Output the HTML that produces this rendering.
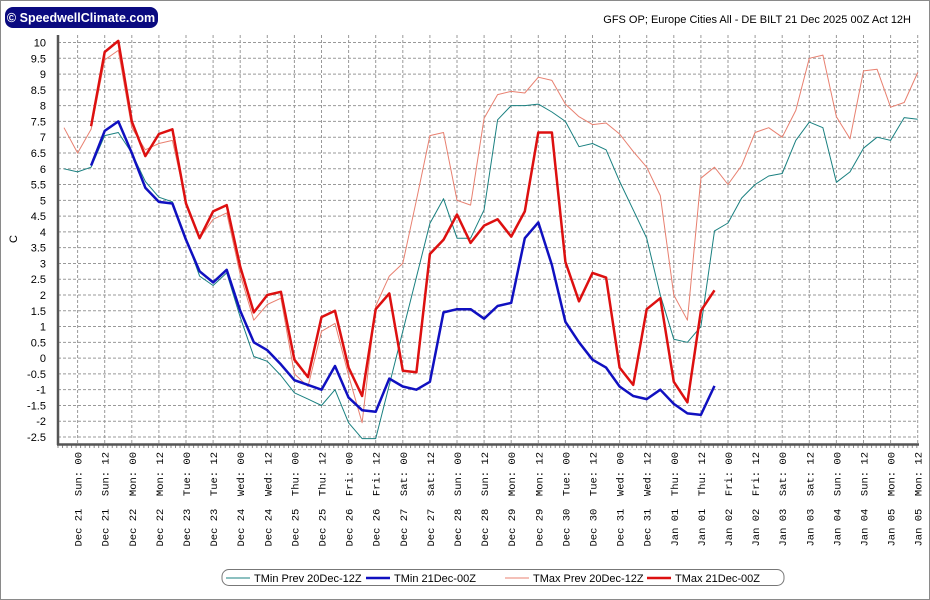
<!DOCTYPE html>
<html><head><meta charset="utf-8"><style>
html,body{margin:0;padding:0;background:#fff;}
svg{display:block;font-family:"Liberation Sans",sans-serif;}
</style></head><body>
<svg id="chart" width="930" height="600" viewBox="0 0 930 600" xmlns="http://www.w3.org/2000/svg">
<rect x="0.5" y="0.5" width="929" height="599" fill="#fff" stroke="#8a8a8a"/>
<g>
<rect x="5" y="7" width="153" height="21" rx="8" fill="#0a0a80"/>
<text x="81" y="22" fill="#fff" font-size="12.5" font-weight="bold" text-anchor="middle">© SpeedwellClimate.com</text>
</g>
<text x="911" y="23" font-size="11" text-anchor="end" fill="#000">GFS OP; Europe Cities All - DE BILT 21 Dec 2025 00Z Act 12H</text>
<text transform="translate(17,239) rotate(-90)" font-size="11" text-anchor="middle">C</text>
<g id="grid"></g>
<g id="yticks"></g>
<g id="xticks"></g>
<g id="series"></g>
<line x1="58" y1="35" x2="58" y2="445" stroke="#555" stroke-width="2.5"/>
<line x1="57" y1="444.5" x2="919" y2="444.5" stroke="#555" stroke-width="2.5"/>
<g>
<rect x="222" y="569.5" width="562" height="16" rx="7" fill="#fff" stroke="#777"/>
<g><line x1="226" y1="578" x2="250" y2="578" stroke="#1a8080" stroke-width="1"/><text x="254" y="582" font-size="11">TMin Prev 20Dec-12Z</text></g>
<g><line x1="366" y1="578" x2="390" y2="578" stroke="#1010c0" stroke-width="2.5"/><text x="394" y="582" font-size="11">TMin 21Dec-00Z</text></g>
<g><line x1="505" y1="578" x2="529" y2="578" stroke="#e88070" stroke-width="1"/><text x="533" y="582" font-size="11">TMax Prev 20Dec-12Z</text></g>
<g><line x1="647" y1="578" x2="671" y2="578" stroke="#dd1010" stroke-width="2.5"/><text x="675" y="582" font-size="11">TMax 21Dec-00Z</text></g>
</g>
</svg>
<script>
const yTicks = [10,9.5,9,8.5,8,7.5,7,6.5,6,5.5,5,4.5,4,3.5,3,2.5,2,1.5,1,0.5,0,-0.5,-1,-1.5,-2,-2.5];
const xDays = ["Dec 21","Dec 21","Dec 22","Dec 22","Dec 23","Dec 23","Dec 24","Dec 24","Dec 25","Dec 25","Dec 26","Dec 26","Dec 27","Dec 27","Dec 28","Dec 28","Dec 29","Dec 29","Dec 30","Dec 30","Dec 31","Dec 31","Jan 01","Jan 01","Jan 02","Jan 02","Jan 03","Jan 03","Jan 04","Jan 04","Jan 05","Jan 05"];
const xWeek = ["Sun","Sun","Mon","Mon","Tue","Tue","Wed","Wed","Thu","Thu","Fri","Fri","Sat","Sat","Sun","Sun","Mon","Mon","Tue","Tue","Wed","Wed","Thu","Thu","Fri","Fri","Sat","Sat","Sun","Sun","Mon","Mon"];
// series: 6-hourly from Dec 20 18Z; null = no data
const tminPrev = [6.0,5.9,6.05,7.05,7.15,6.5,5.6,5.1,4.95,3.8,2.6,2.3,2.7,1.3,0.05,-0.1,-0.55,-1.1,-1.3,-1.5,-1.0,-2.05,-2.55,-2.55,-0.85,0.85,2.56,4.27,5.05,3.8,3.8,4.7,7.55,8.0,8.0,8.05,7.8,7.5,6.7,6.8,6.6,5.6,4.7,3.8,2.0,0.6,0.5,1.0,4.03,4.28,5.07,5.5,5.77,5.85,6.9,7.48,7.3,5.57,5.9,6.65,7.0,6.9,7.62,7.57];
const tmin = [null,null,6.1,7.2,7.5,6.5,5.4,4.95,4.9,3.75,2.75,2.4,2.8,1.5,0.5,0.25,-0.2,-0.7,-0.85,-1.0,-0.25,-1.25,-1.65,-1.7,-0.65,-0.9,-1.0,-0.75,1.45,1.55,1.55,1.25,1.65,1.75,3.8,4.3,2.95,1.15,0.5,-0.05,-0.3,-0.9,-1.2,-1.3,-1.0,-1.45,-1.75,-1.8,-0.88];
const tmaxPrev = [7.3,6.5,7.25,9.45,9.75,7.3,6.6,6.8,6.9,4.95,3.8,4.4,4.6,2.65,1.2,1.7,1.9,-0.5,-0.9,0.85,1.1,-0.55,-2.05,1.65,2.6,3.0,5.0,7.05,7.15,5.0,4.85,7.6,8.35,8.45,8.4,8.9,8.8,8.05,7.65,7.4,7.45,7.1,6.55,6.05,5.15,2.0,1.2,5.7,6.05,5.5,6.1,7.15,7.3,7.0,7.85,9.5,9.6,7.65,6.95,9.1,9.15,7.95,8.1,9.05];
const tmax = [null,null,7.35,9.7,10.05,7.5,6.4,7.1,7.25,4.9,3.8,4.65,4.85,2.9,1.45,2.0,2.1,-0.05,-0.6,1.3,1.5,-0.3,-1.2,1.55,2.05,-0.4,-0.45,3.3,3.75,4.55,3.65,4.2,4.4,3.85,4.65,7.15,7.15,3.05,1.8,2.7,2.55,-0.3,-0.85,1.55,1.9,-0.75,-1.4,1.5,2.15];

const NS="http://www.w3.org/2000/svg";
const X0=77.6, STEP12=27.1;
function xLabel(i){return X0+i*STEP12;}
function xPoint(i){return X0+(i-1)*STEP12/2;}
function y(v){return 295-(v-2)*31.56;}
function mk(tag,attrs,parent){const e=document.createElementNS(NS,tag);for(const k in attrs)e.setAttribute(k,attrs[k]);parent.appendChild(e);return e;}
const grid=document.getElementById('grid'),yt=document.getElementById('yticks'),xt=document.getElementById('xticks'),ser=document.getElementById('series');
yTicks.forEach(v=>{
  const l=mk('line',{x1:58,x2:918,y1:y(v),y2:y(v),stroke:'#999','stroke-dasharray':'3,2','stroke-width':1},grid);
  
  
  const t=mk('text',{x:46,y:y(v)+4,'font-size':11,'text-anchor':'end'},yt);
  t.textContent=String(v);
  
  
});
for(let i=0;i<=190;i++){
  const x=58+i*4.52; if(x>918)break;
  const m=mk('line',{x1:x,x2:x,y1:445,y2:448,stroke:'#888','stroke-width':1},xt);
  
  
}
xDays.forEach((d,i)=>{
  const x=xLabel(i);
  const g=mk('line',{x1:x,x2:x,y1:35,y2:444,stroke:'#999','stroke-dasharray':'3,2','stroke-width':1},grid);
  
  
  const t=mk('text',{transform:`translate(${x+4},${452}) rotate(-90)`,'font-size':10.5,'text-anchor':'end','font-family':'Liberation Mono, monospace'},xt);
  t.textContent=`${d}  ${xWeek[i]}: ${i%2?'12':'00'}`;
  t.setAttribute('xml:space','preserve');
  t.style.whiteSpace='pre';
  
  
});
function drawLine(arr,color,w,name){
  const pts=[];arr.forEach((v,i)=>{if(v!==null)pts.push(xPoint(i).toFixed(1)+','+y(v).toFixed(1));});
  const p=mk('polyline',{points:pts.join(' '),fill:'none',stroke:color,'stroke-width':w,'stroke-linejoin':'round'},ser);
  
  
}
drawLine(tminPrev,'#1a8080',1,'tmin-prev-line');
drawLine(tmaxPrev,'#e88070',1,'tmax-prev-line');
drawLine(tmin,'#1010c0',2.5,'tmin-line');
drawLine(tmax,'#dd1010',2.5,'tmax-line');
</script>
</body></html>
